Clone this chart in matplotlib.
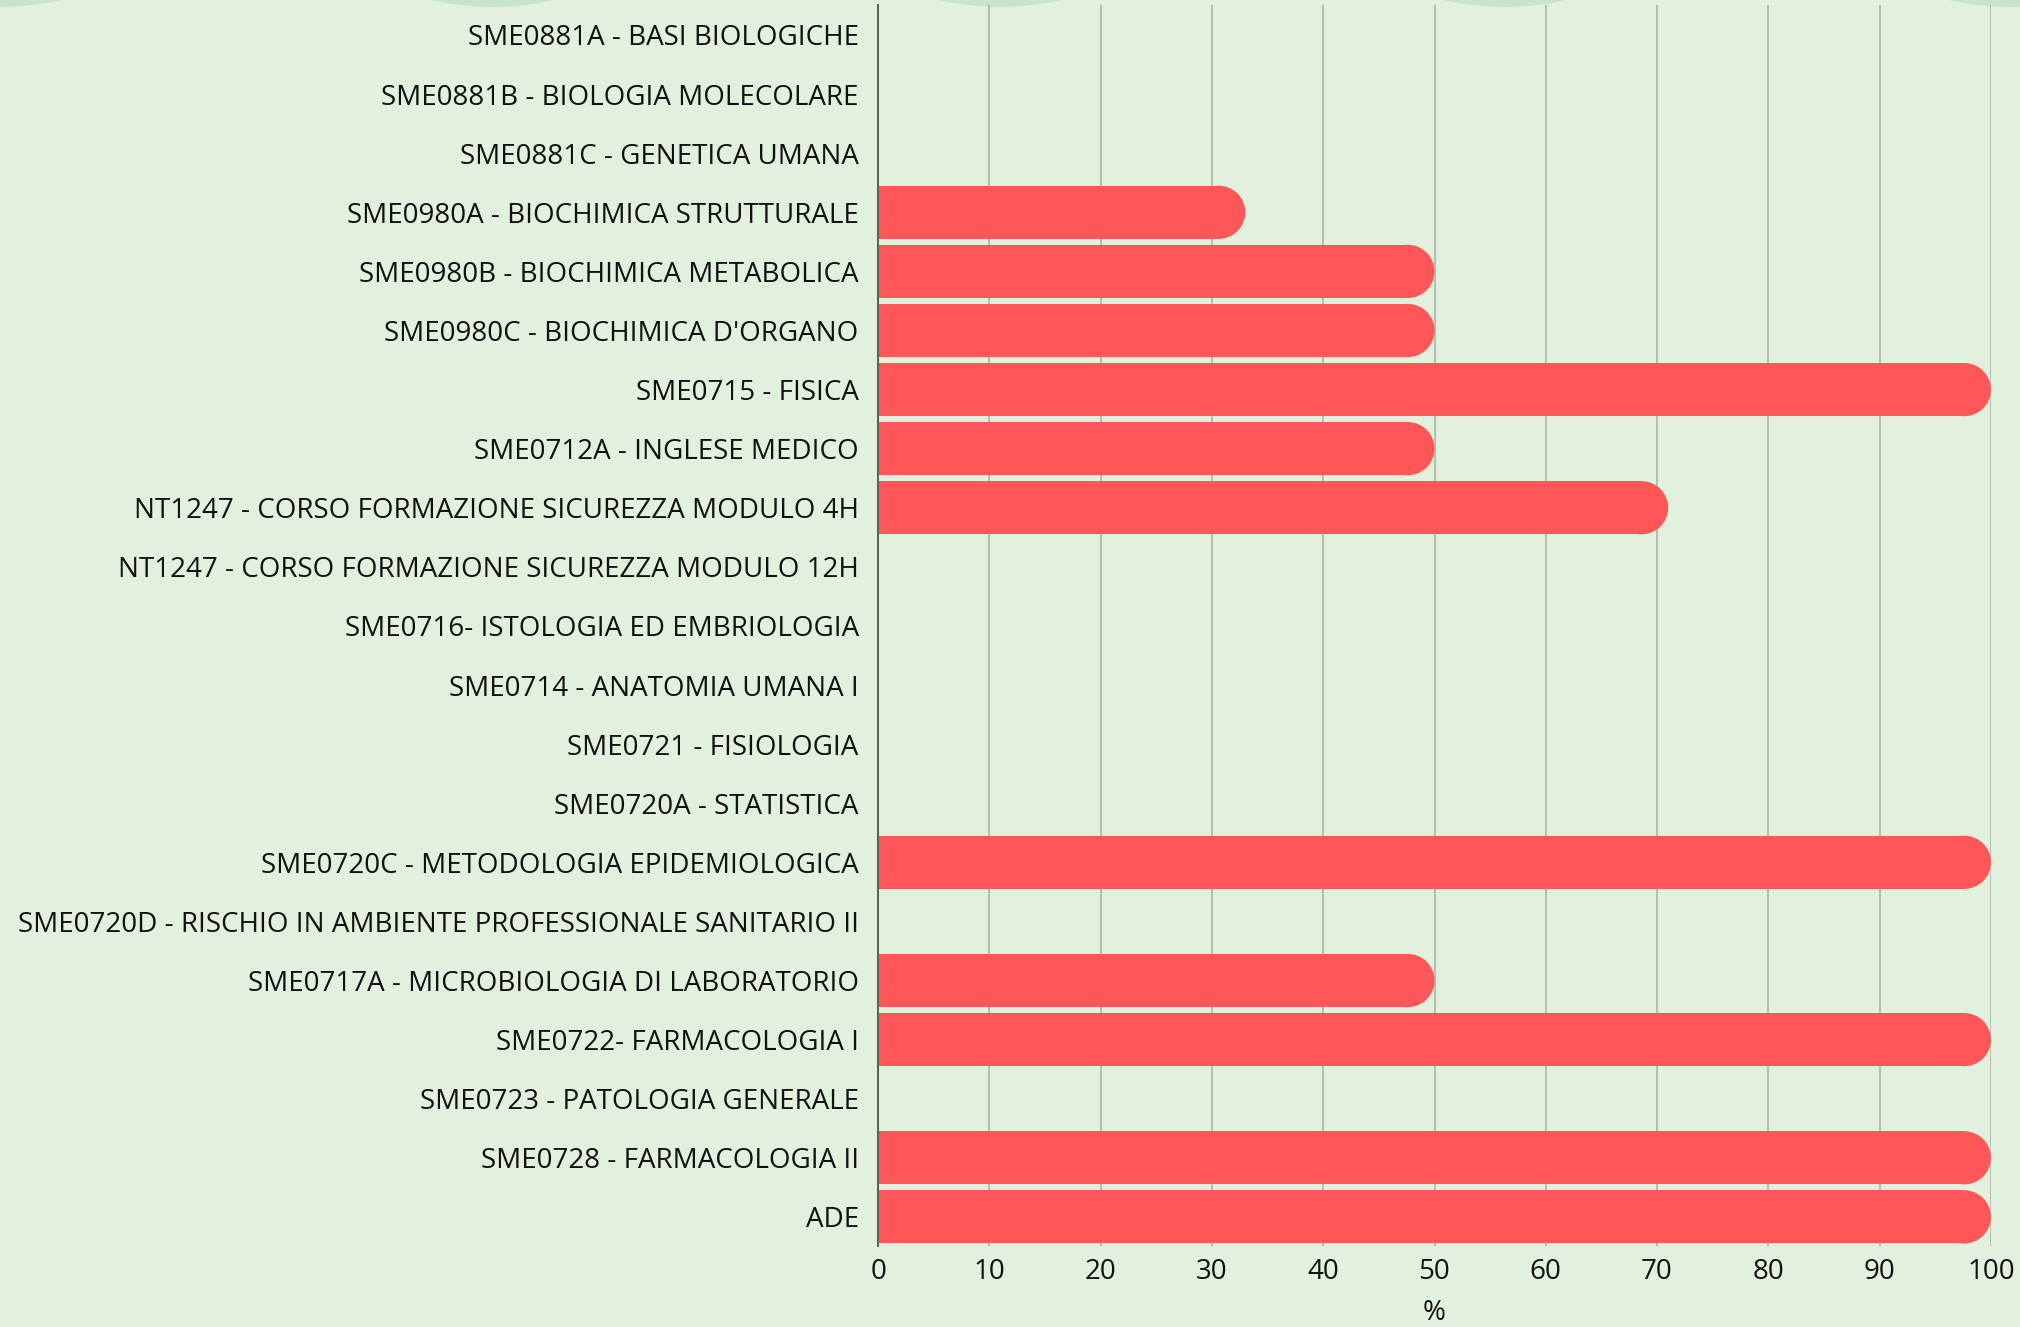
import matplotlib.pyplot as plt
from matplotlib.patches import Ellipse, Circle

# Data: share of passed exams per course (%)
courses = [
    "SME0881A - BASI BIOLOGICHE",
    "SME0881B - BIOLOGIA MOLECOLARE",
    "SME0881C - GENETICA UMANA",
    "SME0980A - BIOCHIMICA STRUTTURALE",
    "SME0980B - BIOCHIMICA METABOLICA",
    "SME0980C - BIOCHIMICA D'ORGANO",
    "SME0715 - FISICA",
    "SME0712A - INGLESE MEDICO",
    "NT1247 - CORSO FORMAZIONE SICUREZZA MODULO 4H",
    "NT1247 - CORSO FORMAZIONE SICUREZZA MODULO 12H",
    "SME0716- ISTOLOGIA ED EMBRIOLOGIA",
    "SME0714 - ANATOMIA UMANA I",
    "SME0721 - FISIOLOGIA",
    "SME0720A - STATISTICA",
    "SME0720C - METODOLOGIA EPIDEMIOLOGICA",
    "SME0720D - RISCHIO IN AMBIENTE PROFESSIONALE SANITARIO II",
    "SME0717A - MICROBIOLOGIA DI LABORATORIO",
    "SME0722- FARMACOLOGIA I",
    "SME0723 - PATOLOGIA GENERALE",
    "SME0728 - FARMACOLOGIA II",
    "ADE",
]
values = [0, 0, 0, 33, 50, 50, 100, 50, 71, 0, 0, 0, 0, 0, 100, 0, 50, 100, 0, 100, 100]
x_ticks = [0, 10, 20, 30, 40, 50, 60, 70, 80, 90, 100]

# decorative circles peeking in at the top edge (pixel x of centre)
circle_x = [0, 493, 1000, 1505, 2010]

BG = '#e2f1de'
BAR = '#ff5757'
GRID = '#a9b7a5'
TEXT = '#111111'
FONT = ['Open Sans', 'DejaVu Sans']

plt.rcParams['font.family'] = FONT

W, H = 2020, 1327
fig = plt.figure(figsize=(W / 100, H / 100), dpi=100, facecolor=BG)

# background layer for the circles, in pixel units
bg = fig.add_axes([0, 0, 1, 1], zorder=0)
bg.set_xlim(0, W)
bg.set_ylim(0, H)
bg.axis('off')
for cx in circle_x:
    bg.add_patch(Circle((cx, H - 7 + 270), 270, color='#c6e6cc', lw=0))

ax = fig.add_axes([0.4347, 0.0607, 0.5509, 0.9352], zorder=1)
ax.patch.set_alpha(0)

n = len(courses)
ypos = list(range(n))
bar_h = 0.9
ax.set_xlim(0, 100)
ax.set_ylim(n - 0.5, -0.5)

# radius of the round end in x data units, so the cap stays circular
fig.canvas.draw()
p0 = ax.transData.transform((0, 0))
p1 = ax.transData.transform((1, bar_h))
r_px = abs(p1[1] - p0[1]) / 2
r_x = r_px / abs(p1[0] - p0[0])

for y, v in zip(ypos, values):
    if v <= 0:
        continue
    body = max(v - r_x, 0)
    ax.barh(y, body, height=bar_h, color=BAR, lw=0, zorder=3)
    ax.add_patch(Ellipse((body, y), 2 * r_x, bar_h, color=BAR, lw=0, zorder=3))

ax.set_xticks(x_ticks)
ax.set_yticks(ypos)
ax.set_yticklabels(courses)
ax.tick_params(axis='both', length=0, labelsize=20, colors=TEXT)
ax.tick_params(axis='y', pad=14)
ax.tick_params(axis='x', pad=8)
ax.grid(True, axis='x', color=GRID, lw=1.2, zorder=1)
ax.set_axisbelow(True)
for side in ['top', 'right', 'bottom']:
    ax.spines[side].set_visible(False)
ax.spines['left'].set_color('#59645a')
ax.spines['left'].set_linewidth(1.5)
ax.spines['left'].set_zorder(4)
ax.set_xlabel('%', fontsize=20, color=TEXT, labelpad=10)

fig.savefig('out.png', dpi=100, facecolor=BG)
